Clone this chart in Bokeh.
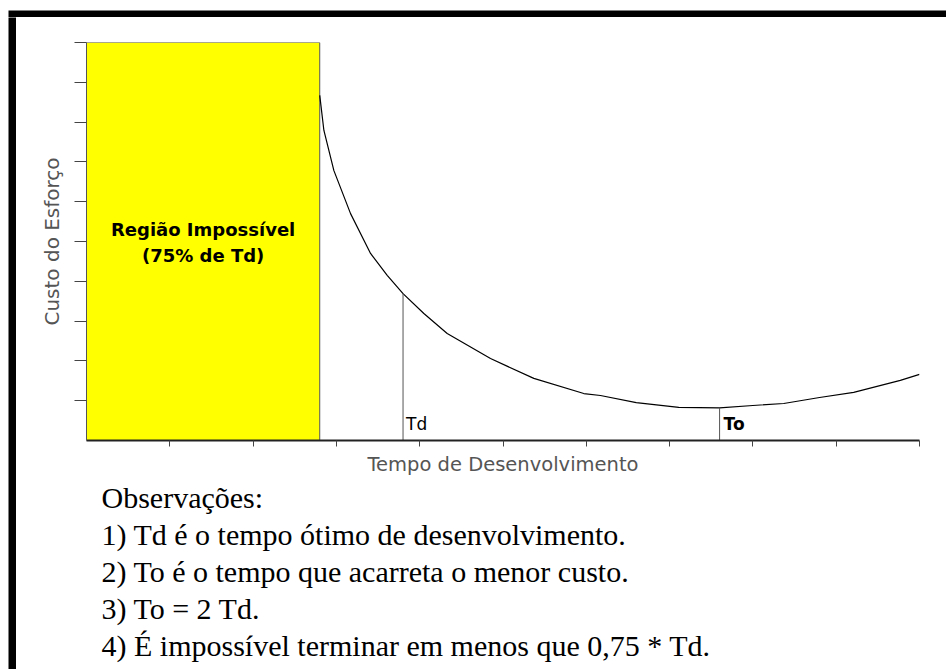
from bokeh.plotting import figure
from bokeh.models import Range1d, FixedTicker
from bokeh.layouts import column, row
from bokeh.core.properties import value
from bokeh.embed import file_html
from bokeh.resources import INLINE

# ---- data ----
time_pts = [2.8, 2.85, 2.97, 3.17, 3.41, 3.61, 3.8, 4.05, 4.33, 4.85, 5.37, 5.97,
            6.17, 6.6, 7.11, 7.6, 8.0, 8.37, 8.8, 9.21, 9.77, 10.0]
cost_pts = [8.67, 7.79, 6.78, 5.70, 4.70, 4.15, 3.69, 3.19, 2.69, 2.06, 1.56, 1.18,
            1.13, 0.95, 0.83, 0.82, 0.88, 0.93, 1.08, 1.21, 1.51, 1.66]
region_end = 2.8
region_top = 10
td = 3.8
to = 7.6
td_cost = 3.69
to_cost = 0.82
x_ticks = [1, 2, 3, 4, 5, 6, 7, 8, 9, 10]
y_ticks = [1, 2, 3, 4, 5, 6, 7, 8, 9, 10]
region_lines = ["Região Impossível", "(75% de Td)"]
marker_labels = ["Td", "To"]
x_title = "Tempo de Desenvolvimento"
y_title = "Custo do Esforço"
notes = [
    "Observações:",
    "1) Td é o tempo ótimo de desenvolvimento.",
    "2) To é o tempo que acarreta o menor custo.",
    "3) To = 2 Td.",
    "4) É impossível terminar em menos que 0,75 * Td.",
]

COMMON = dict(output_backend="svg", toolbar_location=None)

# ---- page frame pieces (thick black border at left and top) ----
top_bar = figure(width=946, height=17, x_range=Range1d(0, 1), y_range=Range1d(0, 1),
                 x_axis_location=None, y_axis_location=None,
                 min_border_top=10, min_border_left=8, min_border_right=0, min_border_bottom=0,
                 background_fill_color="black", border_fill_color="white", **COMMON)
top_bar.outline_line_color = None
top_bar.grid.visible = False

left_bar = figure(width=16, height=652, x_range=Range1d(0, 1), y_range=Range1d(0, 1),
                  x_axis_location=None, y_axis_location=None,
                  min_border_top=0, min_border_left=8, min_border_right=0, min_border_bottom=0,
                  background_fill_color="black", border_fill_color="white", **COMMON)
left_bar.outline_line_color = None
left_bar.grid.visible = False

# ---- main chart ----
p = figure(width=930, height=461, x_range=Range1d(0, 10), y_range=Range1d(0, 10),
           min_border_left=70, min_border_right=27, min_border_top=25, min_border_bottom=38,
           **COMMON)
p.outline_line_color = None
p.grid.visible = False
p.background_fill_color = "white"
p.border_fill_color = "white"

p.quad(left=[0], right=[region_end], bottom=[0], top=[region_top],
       fill_color="#FFFF00", line_color="#555555", line_width=1)
p.text(x=[region_end / 2] * 2, y=[5.3, 4.65], text=region_lines,
       text_font=value("DejaVu Sans"), text_font_style="bold", text_font_size="18px",
       text_align="center", text_baseline="middle", text_color="black")

p.line(time_pts, cost_pts, line_color="black", line_width=1.2)

p.segment(x0=[td, to], y0=[0, 0], x1=[td, to], y1=[td_cost, to_cost],
          line_color="#555555", line_width=1)
p.text(x=[td], y=[0], text=[marker_labels[0]], x_offset=3, y_offset=-17,
       text_font=value("DejaVu Sans"), text_font_size="17px",
       text_baseline="middle", text_color="black")
p.text(x=[to], y=[0], text=[marker_labels[1]], x_offset=4, y_offset=-17,
       text_font=value("DejaVu Sans"), text_font_style="bold", text_font_size="17px",
       text_baseline="middle", text_color="black")

p.xaxis.ticker = FixedTicker(ticks=x_ticks)
p.yaxis.ticker = FixedTicker(ticks=y_ticks)
for ax in (p.xaxis[0], p.yaxis[0]):
    ax.major_label_text_font_size = "0px"
    ax.major_label_text_color = None
    ax.major_label_standoff = 0
    ax.minor_tick_line_color = None
    ax.major_tick_in = 0
    ax.major_tick_line_color = "#444444"
    ax.axis_label_text_font = "DejaVu Sans"
    ax.axis_label_text_font_style = "normal"
    ax.axis_label_text_color = "#555555"
p.xaxis.axis_label_text_font_size = "19.5px"
p.yaxis.axis_label_text_font_size = "20px"
p.xaxis.major_tick_out = 6
p.yaxis.major_tick_out = 12
p.xaxis.axis_line_color = "#222222"
p.xaxis.axis_line_width = 2
p.yaxis.axis_line_color = "#555555"
p.xaxis.axis_label = x_title
p.yaxis.axis_label = y_title
p.xaxis.axis_label_standoff = 6
p.yaxis.axis_label_standoff = 11

# ---- notes panel (ranges are page pixels; frame aligned with the chart above) ----
notes_top = 478
first_center = 497
line_step = 37
note_left = 101
q = figure(width=930, height=191, x_range=Range1d(86, 919), y_range=Range1d(669, notes_top),
           x_axis_location=None, y_axis_location=None,
           min_border_top=0, min_border_left=70, min_border_right=27, min_border_bottom=0,
           **COMMON)
q.outline_line_color = None
q.grid.visible = False
q.text(x=[note_left] * len(notes),
       y=[first_center + line_step * i for i in range(len(notes))],
       text=notes, text_font=value("Liberation Serif"), text_font_size="30px",
       text_baseline="middle", text_color="black")

layout = column(top_bar, row(left_bar, column(p, q)))
open("out.html", "w").write(file_html(layout, INLINE))
